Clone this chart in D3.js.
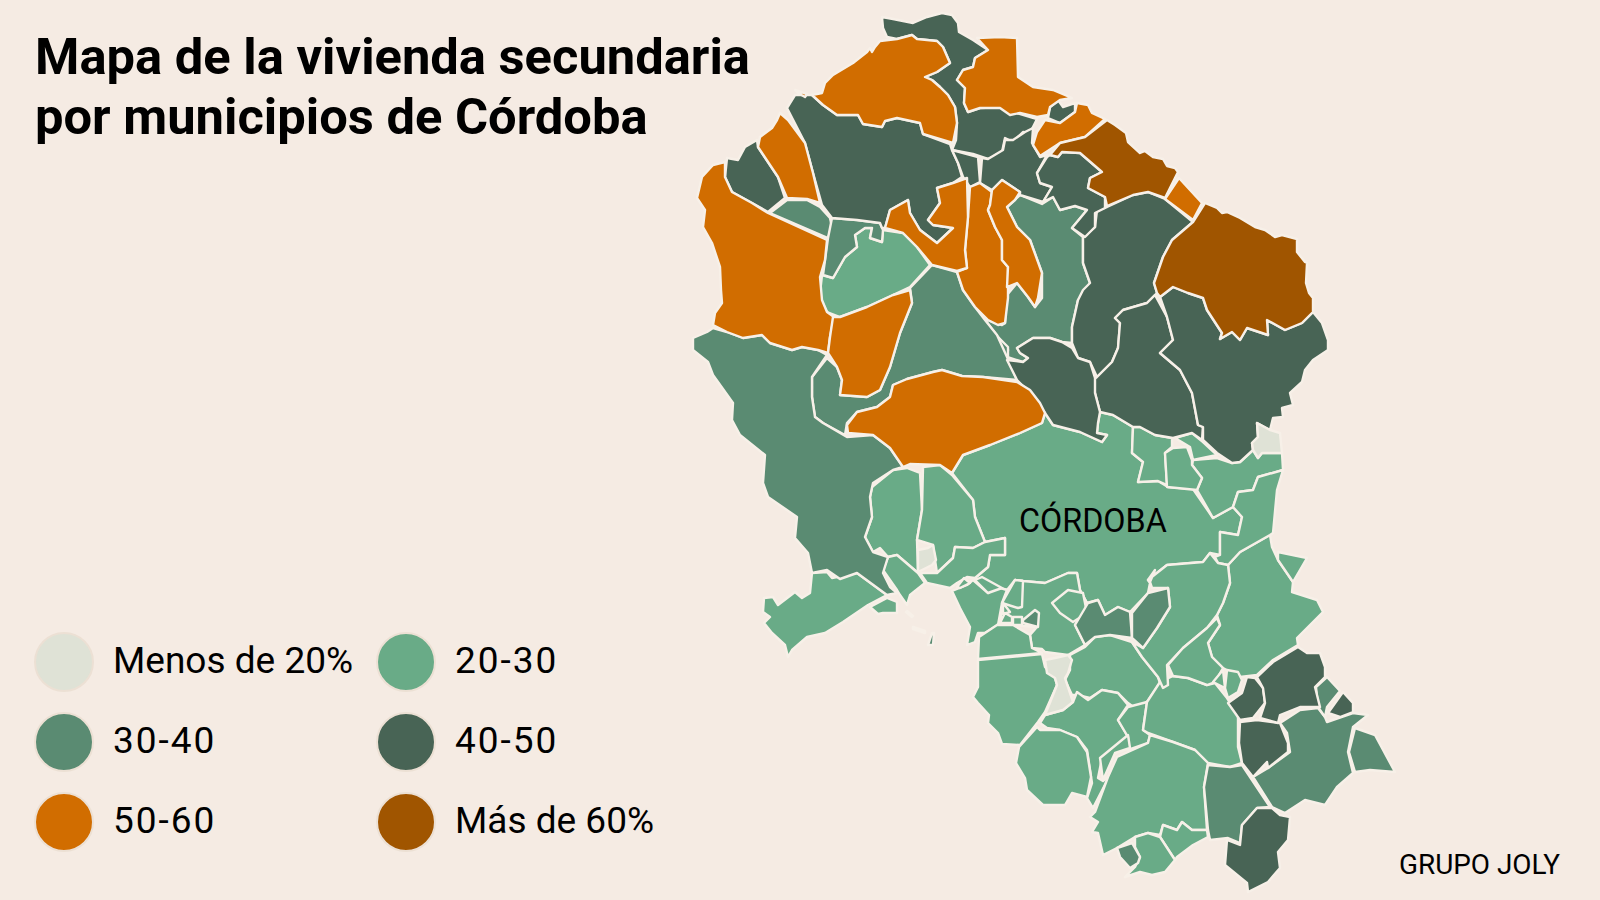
<!DOCTYPE html>
<html lang="es">
<head>
<meta charset="utf-8">
<title>Mapa de la vivienda secundaria</title>
<script src="https://cdn.jsdelivr.net/npm/d3@7"></script>
<style>
	html, body { margin: 0; padding: 0; background: #f5ebe3; }
	svg { display: block; font-family: Roboto, sans-serif; }
</style>
</head>
<body>
<svg id="chart" width="1600" height="900"></svg>
<script>
// Title, credits and legend labels
const titleLines = ["Mapa de la vivienda secundaria", "por municipios de Córdoba"];
const provinceLabel = "CÓRDOBA";
const sourceLabel = "GRUPO JOLY";
const classes = ["Menos de 20%", "20-30", "30-40", "40-50", "50-60", "Más de 60%"];
const classColors = ["#dfe2d6", "#69ab87", "#5a8b72", "#486455", "#d16d00", "#a05500"];

// Municipal outlines, grouped by class (map units)
const ringsMenos20 = [
	[[1257,423],[1270,430],[1280,433],[1282,453],[1262,453],[1258,458],[1253,450],[1252,443],[1258,437]],
	[[918,550],[928,548],[933,545],[936,560],[932,565],[918,572]],
	[[1045,660],[1055,658],[1068,655],[1072,660],[1068,673],[1065,678],[1073,702],[1063,710],[1045,715],[1057,685],[1055,678],[1047,673]]
];

const rings20_30 = [
	// Córdoba capital
	[[952,473],[963,455],[990,445],[1020,433],[1042,423],[1045,413],[1053,425],[1080,432],[1102,442],[1107,435],[1097,433],[1098,423],[1100,412],[1113,415],[1133,427],[1132,453],[1143,462],[1138,482],[1158,481],[1168,487],[1193,489],[1213,518],[1233,507],[1242,517],[1238,535],[1220,532],[1220,555],[1210,553],[1203,562],[1167,565],[1148,580],[1150,583],[1148,593],[1130,612],[1118,607],[1105,615],[1098,600],[1087,603],[1080,590],[1077,573],[1068,573],[1045,583],[1023,581],[1015,580],[1007,590],[990,585],[975,578],[988,567],[990,555],[1005,555],[1005,538],[985,542],[975,517],[973,500]],
	[[822,275],[833,278],[845,257],[857,247],[855,235],[865,228],[872,228],[870,238],[882,242],[883,230],[903,233],[917,247],[930,265],[910,287],[893,295],[867,307],[840,317],[827,312],[821,300],[820,293]],
	// Guadalquivir, oeste
	[[872,487],[893,470],[907,468],[920,473],[922,510],[917,540],[918,573],[897,555],[888,557],[880,548],[873,552],[865,537],[872,517],[870,497]],
	[[923,467],[940,465],[952,475],[973,500],[975,517],[985,542],[973,548],[955,547],[953,558],[937,573],[935,560],[933,545],[917,540],[922,510]],
	[[920,573],[937,573],[953,558],[955,547],[973,548],[985,542],[1005,538],[1005,555],[990,555],[988,567],[975,578],[967,577],[957,583],[950,588],[927,583]],
	[[888,557],[897,555],[918,573],[925,583],[910,595],[907,605],[900,595],[897,590],[883,570]],
	[[812,573],[827,572],[832,578],[857,573],[887,595],[868,605],[843,622],[825,633],[807,637],[792,650],[788,657],[785,645],[772,633],[764,623],[770,617],[763,612],[764,598],[773,597],[778,605],[795,592],[802,598],[810,593]],
	[[870,607],[887,598],[897,602],[897,613],[883,613],[878,614]],
	[[952,591],[967,585],[973,580],[988,593],[997,587],[1007,590],[1002,603],[998,625],[985,633],[978,633],[975,642],[967,645],[970,627],[960,608]],
	[[957,587],[964,578],[970,583],[960,588]],
	[[975,580],[982,577],[1002,588],[988,593]],
	// Campiña
	[[1000,623],[1003,603],[1015,580],[1023,581],[1045,583],[1068,573],[1077,573],[1080,590],[1087,603],[1075,625],[1085,645],[1068,655],[1045,652],[1042,649],[1032,648],[1030,635],[1037,627],[1013,625],[997,625]],
	[[1052,603],[1068,590],[1083,593],[1087,613],[1073,622],[1060,613]],
	[[1002,603],[1015,580],[1023,581],[1022,607],[1018,608]],
	[[1003,603],[1010,612],[1003,614]],
	[[1000,623],[1005,613],[1012,617],[1012,623]],
	[[1013,617],[1022,617],[1022,625],[1013,625]],
	[[979,637],[997,625],[1013,625],[1030,635],[1032,648],[1042,653],[978,659]],
	[[978,660],[1042,654],[1045,667],[1055,678],[1057,685],[1045,712],[1038,722],[1020,745],[1002,744],[998,733],[988,723],[989,715],[978,703],[973,697],[978,687],[978,670]],
	[[1070,655],[1085,647],[1095,637],[1110,635],[1132,642],[1142,657],[1158,677],[1160,683],[1147,702],[1135,708],[1128,703],[1118,693],[1102,690],[1090,698],[1077,695],[1072,695],[1065,680],[1070,670]],
	[[1040,723],[1045,715],[1063,710],[1073,702],[1077,692],[1088,700],[1102,690],[1118,693],[1128,705],[1118,720],[1128,737],[1102,758],[1098,778],[1103,781],[1110,775],[1093,808],[1087,798],[1092,783],[1087,750],[1077,737],[1060,730],[1047,728]],
	[[1037,727],[1040,730],[1060,730],[1077,737],[1087,752],[1091,777],[1087,797],[1072,793],[1065,805],[1043,805],[1027,790],[1025,778],[1016,763],[1019,747]],
	[[1128,707],[1147,702],[1143,730],[1150,735],[1148,743],[1128,750],[1128,737],[1118,720]],
	[[1100,758],[1128,735],[1130,748],[1115,753],[1103,780]],
	[[1147,702],[1160,682],[1173,676],[1188,678],[1207,685],[1215,683],[1227,698],[1238,715],[1238,747],[1242,763],[1230,767],[1208,763],[1195,750],[1173,742],[1148,733],[1143,730]],
	// Sur
	[[1150,735],[1173,742],[1195,750],[1208,763],[1204,787],[1207,830],[1192,830],[1182,822],[1177,830],[1163,825],[1160,835],[1148,833],[1135,837],[1117,848],[1103,855],[1098,833],[1092,832],[1098,822],[1090,817],[1095,812],[1108,777],[1117,757],[1148,743]],
	[[1163,825],[1177,830],[1182,822],[1192,830],[1207,830],[1208,837],[1193,845],[1177,857],[1175,860],[1160,837]],
	[[1135,837],[1148,833],[1160,837],[1175,860],[1165,872],[1152,875],[1140,872],[1125,877],[1135,867],[1140,857],[1135,847]],
	// Este
	[[1270,535],[1272,547],[1278,560],[1293,582],[1292,592],[1317,600],[1323,612],[1297,638],[1298,645],[1273,660],[1257,675],[1240,677],[1223,668],[1212,657],[1208,643],[1220,625],[1217,615],[1223,603],[1230,583],[1228,565],[1240,552]],
	[[1278,552],[1307,558],[1293,582],[1278,560]],
	[[1193,460],[1217,458],[1232,463],[1240,462],[1253,450],[1258,458],[1262,453],[1282,453],[1283,470],[1258,477],[1253,490],[1238,492],[1233,507],[1213,518],[1197,490],[1202,478],[1192,465]],
	[[1283,470],[1277,490],[1273,533],[1270,535],[1240,552],[1228,565],[1218,563],[1215,557],[1220,555],[1220,532],[1238,535],[1242,517],[1233,507],[1238,492],[1253,490],[1258,477]],
	[[1133,427],[1140,427],[1155,435],[1172,438],[1172,447],[1165,453],[1167,485],[1158,481],[1138,482],[1143,462],[1132,453]],
	[[1173,448],[1187,447],[1192,460],[1192,465],[1202,478],[1197,490],[1167,487],[1165,453]],
	[[1175,438],[1192,433],[1203,442],[1217,455],[1193,460],[1190,447]],
	[[1155,570],[1150,582],[1152,588],[1168,588],[1170,607],[1157,628],[1143,648],[1132,642],[1142,657],[1158,677],[1163,688],[1168,685],[1167,665],[1183,648],[1207,628],[1217,615],[1223,603],[1230,583],[1228,565],[1218,563],[1210,553],[1203,562],[1167,565],[1148,580]],
	[[1168,665],[1183,648],[1207,628],[1217,618],[1220,625],[1208,643],[1212,657],[1223,668],[1215,682],[1207,685],[1188,678],[1173,676]],
	[[1213,682],[1223,670],[1225,688]],
	[[1227,670],[1238,672],[1242,680],[1238,692],[1228,698],[1225,688]]
];

const rings30_40 = [
	[[928,175],[942,187],[938,197],[930,197]],
	[[787,200],[807,200],[820,207],[830,218],[832,227],[828,238],[770,213]],
	[[832,218],[857,220],[880,223],[883,230],[882,242],[870,238],[872,228],[865,228],[855,235],[857,247],[845,257],[833,278],[823,275],[828,238]],
	// Sierra central
	[[1020,195],[1042,204],[1053,197],[1060,210],[1075,206],[1087,210],[1072,228],[1083,237],[1083,263],[1090,283],[1083,297],[1078,300],[1072,327],[1072,343],[1062,342],[1050,338],[1033,338],[1017,348],[1020,353],[1028,358],[1023,362],[1007,357],[1008,350],[998,337],[985,320],[988,320],[1002,325],[1005,323],[1007,295],[1017,283],[1028,297],[1035,307],[1042,298],[1042,273],[1030,240],[1017,227],[1007,207]],
	[[985,348],[998,337],[1008,347],[1008,357],[1002,358],[990,353]],
	[[932,265],[957,272],[963,290],[975,307],[985,320],[997,335],[1007,357],[1017,380],[983,377],[962,376],[942,370],[933,372],[907,379],[893,385],[890,397],[877,407],[857,412],[847,423],[845,435],[823,423],[815,417],[812,397],[812,377],[827,358],[837,367],[842,380],[840,395],[867,397],[880,390],[890,367],[900,333],[912,303],[910,288]],
	// Valle del Guadiato
	[[713,328],[727,332],[743,338],[762,335],[770,343],[792,350],[802,347],[818,350],[827,355],[812,377],[812,397],[815,417],[823,423],[847,437],[873,435],[890,448],[903,467],[893,470],[873,483],[870,497],[872,517],[865,537],[873,552],[888,557],[883,573],[890,587],[897,593],[887,595],[857,573],[840,579],[827,570],[812,573],[808,553],[795,538],[797,517],[768,497],[763,483],[765,455],[740,435],[732,420],[733,403],[713,375],[708,362],[693,350],[693,338],[707,332]],
	[[928,645],[932,633],[934,633],[933,645]],
	[[913,627],[925,631],[925,633],[913,629]],
	[[907,611],[913,616],[912,617],[906,612]],
	[[1023,620],[1035,610],[1039,613],[1038,627],[1023,623]],
	[[1075,625],[1088,603],[1098,600],[1105,615],[1118,607],[1130,612],[1132,638],[1110,635],[1095,637],[1085,645]],
	[[1132,613],[1148,593],[1168,588],[1170,607],[1157,628],[1143,648],[1132,638]],
	[[1117,848],[1132,843],[1140,857],[1138,863],[1130,868],[1120,857]],
	[[1208,765],[1230,767],[1242,765],[1250,777],[1270,807],[1257,808],[1242,825],[1240,843],[1228,838],[1210,840],[1208,830],[1204,787]],
	[[1253,777],[1268,768],[1290,752],[1287,733],[1280,723],[1300,710],[1318,708],[1325,717],[1327,722],[1353,713],[1368,715],[1353,727],[1348,752],[1353,773],[1337,787],[1325,805],[1305,800],[1285,813],[1272,807]],
	[[1355,728],[1375,735],[1395,772],[1370,770],[1355,772],[1349,752]],
	[[1327,677],[1340,691],[1327,707],[1325,717],[1318,707],[1316,687]]
];

const rings40_50 = [
	// Los Pedroches
	[[882,17],[893,19],[913,23],[927,17],[942,13],[952,15],[958,23],[959,32],[973,40],[988,50],[975,58],[973,67],[963,70],[957,80],[965,88],[964,103],[968,112],[980,108],[1003,107],[1017,113],[1037,119],[1030,133],[1023,132],[1013,142],[1005,138],[1002,152],[988,159],[973,154],[952,150],[956,140],[957,123],[955,107],[948,95],[940,87],[932,80],[925,77],[937,72],[950,63],[943,47],[937,41],[917,39],[912,35],[897,39],[887,37],[883,28]],
	[[1050,107],[1058,100],[1063,107],[1075,103],[1075,112],[1060,123],[1048,118]],
	[[1107,207],[1133,195],[1148,192],[1165,199],[1193,222],[1172,240],[1163,257],[1154,283],[1157,293],[1155,295],[1147,303],[1123,310],[1115,318],[1120,323],[1118,348],[1112,362],[1097,377],[1090,362],[1078,358],[1072,343],[1072,327],[1078,300],[1083,290],[1090,283],[1083,263],[1083,237],[1095,227],[1097,210]],
	[[1155,295],[1167,317],[1173,340],[1160,353],[1180,370],[1192,393],[1198,425],[1203,427],[1202,440],[1192,433],[1173,438],[1155,435],[1140,427],[1133,427],[1113,415],[1100,412],[1095,393],[1093,380],[1097,377],[1112,362],[1118,348],[1120,323],[1115,318],[1123,310],[1147,303]],
	[[1160,297],[1173,287],[1188,293],[1203,298],[1207,310],[1222,333],[1220,339],[1232,332],[1240,340],[1247,328],[1268,335],[1267,320],[1285,330],[1302,323],[1313,312],[1322,323],[1328,340],[1328,350],[1313,360],[1305,370],[1302,382],[1290,393],[1293,405],[1282,408],[1283,417],[1273,418],[1270,430],[1257,423],[1258,437],[1252,443],[1253,450],[1240,462],[1232,463],[1217,453],[1203,440],[1203,427],[1198,425],[1192,393],[1180,370],[1160,353],[1173,340],[1167,317]],
	[[1017,348],[1033,338],[1050,338],[1062,342],[1072,348],[1078,358],[1090,362],[1095,378],[1095,393],[1100,412],[1098,423],[1097,433],[1107,435],[1102,442],[1080,432],[1053,425],[1045,413],[1030,393],[1017,380],[1007,360],[1023,362],[1028,358],[1020,353]],
	// Norte, oeste
	[[795,95],[812,95],[823,105],[837,115],[858,115],[863,124],[882,127],[885,121],[897,118],[920,123],[923,134],[950,144],[952,150],[958,163],[962,177],[953,183],[937,188],[940,203],[928,220],[933,225],[953,228],[937,243],[920,230],[910,213],[908,200],[890,210],[885,228],[882,228],[880,223],[857,220],[832,218],[822,205],[813,173],[805,143],[787,108]],
	[[952,150],[978,157],[980,182],[970,187],[963,177],[958,163]],
	[[982,158],[988,159],[1003,150],[1005,140],[1013,140],[1025,132],[1033,128],[1032,143],[1040,157],[1047,155],[1037,173],[1040,183],[1052,187],[1043,202],[1020,195],[1020,192],[1002,180],[992,190],[980,183]],
	[[1050,155],[1058,157],[1062,152],[1080,153],[1102,172],[1090,178],[1088,188],[1105,197],[1105,208],[1095,213],[1095,227],[1085,237],[1072,228],[1087,210],[1075,206],[1060,210],[1053,197],[1043,202],[1052,187],[1040,183],[1037,173],[1047,157]],
	[[757,140],[758,147],[778,177],[785,198],[768,212],[752,203],[732,192],[725,177],[727,158],[738,160],[745,147]],
	// Subbética
	[[1240,722],[1257,720],[1280,723],[1288,743],[1288,752],[1268,768],[1267,762],[1253,777],[1242,763],[1239,743]],
	[[1228,703],[1242,693],[1247,677],[1255,678],[1263,688],[1265,703],[1253,718],[1240,720]],
	[[1257,677],[1273,662],[1298,647],[1307,653],[1320,653],[1325,667],[1325,677],[1315,687],[1320,707],[1300,707],[1280,715],[1278,723],[1260,718],[1265,703],[1263,688]],
	[[1343,692],[1353,703],[1353,712],[1340,717],[1328,713]],
	[[1242,825],[1257,808],[1272,808],[1280,815],[1290,817],[1288,840],[1278,852],[1280,868],[1268,882],[1248,892],[1247,883],[1225,865],[1227,840],[1240,845]]
];

const rings50_60 = [
	[[880,41],[897,39],[912,35],[917,39],[937,41],[943,47],[950,63],[937,72],[925,77],[932,80],[940,87],[948,95],[955,107],[957,123],[953,143],[923,134],[920,123],[897,118],[885,121],[882,127],[863,124],[858,115],[837,115],[823,105],[812,95],[822,93],[825,83],[833,75],[853,63],[867,52],[870,48],[872,52],[875,47]],
	[[795,90],[807,94],[805,97],[798,93]],
	[[977,38],[1000,37],[1017,38],[1018,77],[1033,87],[1053,90],[1072,98],[1060,100],[1050,107],[1048,115],[1037,117],[1020,113],[1010,115],[1000,108],[980,108],[968,112],[964,103],[965,88],[957,80],[963,70],[973,67],[975,58],[988,50]],
	[[1045,120],[1060,123],[1075,112],[1077,103],[1088,105],[1092,113],[1105,119],[1085,137],[1060,143],[1040,156],[1033,145],[1037,132]],
	[[1179,178],[1202,203],[1193,220],[1165,199]],
	[[970,187],[980,183],[992,192],[990,205],[988,210],[995,227],[1002,240],[1002,260],[1008,267],[1008,298],[1005,323],[998,325],[988,320],[975,307],[963,290],[957,272],[967,268],[965,250],[968,217]],
	[[992,190],[1002,180],[1020,192],[1015,200],[1007,207],[1017,227],[1030,240],[1042,273],[1038,298],[1035,307],[1028,297],[1017,283],[1007,287],[1008,267],[1002,260],[1002,240],[995,227],[988,210],[990,205]],
	[[908,200],[910,213],[920,230],[937,243],[953,228],[933,225],[928,220],[940,203],[937,188],[953,183],[967,178],[968,217],[965,250],[967,268],[957,271],[932,265],[917,247],[903,233],[885,228],[890,210]],
	[[780,113],[788,120],[805,143],[813,173],[820,203],[807,199],[787,198],[778,177],[758,147],[760,137],[772,128],[777,120]],
	[[725,162],[725,177],[732,192],[752,203],[768,213],[827,240],[825,260],[820,277],[822,300],[827,312],[834,317],[830,337],[828,353],[818,350],[802,347],[792,350],[770,343],[762,335],[743,338],[727,332],[713,325],[715,313],[722,303],[721,290],[720,267],[712,243],[703,227],[705,210],[697,198],[702,177],[713,165]],
	[[833,317],[840,317],[867,307],[893,295],[910,290],[912,303],[900,333],[890,367],[880,390],[867,397],[840,395],[842,380],[837,367],[828,353],[830,337]],
	[[848,433],[847,425],[857,412],[877,407],[890,397],[893,385],[907,379],[933,372],[942,370],[962,376],[983,377],[1017,382],[1030,390],[1040,403],[1045,413],[1042,423],[1020,433],[990,445],[963,455],[952,473],[940,465],[910,464],[903,467],[890,448],[873,435]]
];

const ringsMas60 = [
	[[1107,120],[1115,125],[1126,133],[1128,142],[1140,153],[1145,151],[1153,157],[1163,159],[1167,166],[1175,168],[1178,172],[1165,198],[1148,192],[1133,195],[1107,206],[1105,197],[1088,188],[1090,178],[1102,172],[1080,153],[1062,152],[1058,157],[1050,155],[1060,143],[1085,137]],
	[[1205,203],[1217,208],[1222,213],[1227,212],[1240,218],[1255,227],[1265,230],[1275,237],[1282,235],[1297,239],[1297,252],[1305,262],[1307,263],[1306,283],[1309,293],[1313,298],[1313,312],[1302,323],[1285,330],[1267,320],[1268,335],[1247,328],[1240,340],[1232,332],[1220,339],[1222,333],[1207,310],[1203,298],[1188,293],[1173,287],[1160,297],[1157,293],[1154,283],[1163,257],[1172,240],[1193,222]]
];

const width = 1600;
const height = 900;

const svg = d3.select("#chart");

svg.append("rect")
	.attr("width", width)
	.attr("height", height)
	.attr("fill", "#f5ebe3");

// Map units to the page
const x = d3.scaleLinear().domain([0, 1600]).range([0, width]);
const y = d3.scaleLinear().domain([0, 900]).range([0, height]);
const color = d3.scaleOrdinal().domain(classes).range(classColors);

const ringPath = d3.line()
	.x((d) => x(d[0]))
	.y((d) => y(d[1]))
	.curve(d3.curveLinearClosed);

// Draw the biggest class first so the small enclaves stay on top
const layers = [
	["20-30", rings20_30],
	["30-40", rings30_40],
	["40-50", rings40_50],
	["50-60", rings50_60],
	["Más de 60%", ringsMas60],
	["Menos de 20%", ringsMenos20]
];

layers.forEach(function (layer) {
	svg.append("g")
		.selectAll("path")
		.data(layer[1])
		.join("path")
		.attr("d", ringPath)
		.attr("fill", color(layer[0]))
		.attr("stroke", "#f7f0e8")
		.attr("stroke-width", 2.4)
		.attr("stroke-linejoin", "round");
});

// Title
svg.append("g")
	.selectAll("text")
	.data(titleLines)
	.join("text")
	.attr("x", 35)
	.attr("y", (d, i) => 74 + i * 59.5)
	.attr("font-size", 50.7)
	.attr("font-weight", 700)
	.attr("fill", "#000")
	.text((d) => d);

// Legend, filled column by column over three rows
const legendX = d3.scalePoint().domain([0, 1]).range([64, 406]);
const legendY = d3.scalePoint().domain([0, 1, 2]).range([662, 822]);

const legend = svg.append("g")
	.selectAll("g")
	.data(classes)
	.join("g")
	.attr("transform", (d, i) => `translate(${legendX(i % 2)},${legendY(Math.floor(i / 2))})`);

legend.append("circle")
	.attr("r", 29)
	.attr("fill", (d) => color(d))
	.attr("stroke", "#ece0d4")
	.attr("stroke-width", 2);

// The range labels carry a wider hyphen in the reference
legend.append("text")
	.attr("x", 49)
	.attr("y", 10.5)
	.attr("font-size", 37)
	.attr("letter-spacing", (d) => d.includes("-") ? 2 : 0)
	.attr("fill", "#000")
	.text((d) => d);

svg.append("text")
	.attr("x", x(1019))
	.attr("y", y(532))
	.attr("font-size", 32.3)
	.attr("fill", "#000")
	.text(provinceLabel);

svg.append("text")
	.attr("x", 1399)
	.attr("y", 874)
	.attr("font-size", 27.9)
	.attr("fill", "#000")
	.text(sourceLabel);
</script>
</body>
</html>
